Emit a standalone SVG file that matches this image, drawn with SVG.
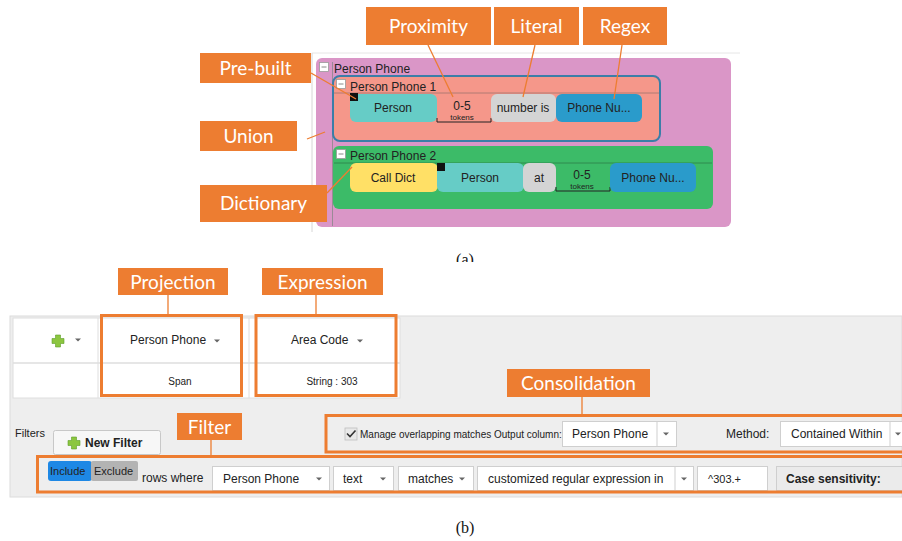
<svg xmlns="http://www.w3.org/2000/svg" width="902" height="541" viewBox="0 0 902 541">
<style>
.lbl{fill:#ED7D31}
.lt{fill:#fff;font-family:Lato,"Open Sans",sans-serif;font-size:19px;text-anchor:middle}
.lead{stroke:#ED7D31;stroke-width:1.3;fill:none}
.ui{font-family:"Liberation Sans",Arial,sans-serif;fill:#222}
.ui12{font-size:12px}
.ui11{font-size:11px}
.c{text-anchor:middle}
.obox{fill:none;stroke:#ED7D31;stroke-width:3}
.dd{fill:#fff;stroke:#cfcfcf;stroke-width:1}
.car{fill:#666}
.minus{fill:#fff;stroke:#999;stroke-width:0.8}
.cap{font-family:"Liberation Serif","Times New Roman",serif;font-size:16px;fill:#111;text-anchor:middle}
</style>
<defs>
<clipPath id="clipA"><rect x="0" y="0" width="902" height="262"/></clipPath>
<g id="plus"><path d="M-2.5,-6h5v3.5h3.5v5h-3.5v3.5h-5v-3.5h-3.5v-5h3.5z" fill="#8CC63F" stroke="#5E9E2A" stroke-width="0.6"/></g>
<path id="caret" d="M-3,-1.5h6l-3,3z"/>
</defs>
<rect width="902" height="541" fill="#fff"/>

<!-- ===== Panel (a) ===== -->
<g id="panel-a">
<line x1="312" y1="53" x2="740" y2="53" stroke="#e6e6e6"/>
<line x1="312" y1="53" x2="312" y2="232" stroke="#d6d6d6"/>
<g id="union-person-phone">
<rect x="316" y="58" width="415" height="169" rx="6" fill="#DA96C7"/>
<line x1="332.5" y1="62" x2="332.5" y2="226" stroke="#9a8a96" stroke-width="1"/>
<rect class="minus" x="319.5" y="62.5" width="9" height="9"/>
<line x1="321.5" y1="67" x2="326.5" y2="67" stroke="#888"/>
<text class="ui ui12" x="334" y="73">Person Phone</text>
</g>
<g id="person-phone-1">
<rect x="333" y="76" width="327" height="65" rx="7" fill="#F5978A" stroke="#3B7EA8" stroke-width="2"/>
<line x1="334" y1="93" x2="659" y2="93" stroke="#b07a72" stroke-width="1"/>
<rect class="minus" x="336.5" y="79.5" width="9" height="9"/>
<line x1="338.5" y1="84" x2="343.5" y2="84" stroke="#888"/>
<text class="ui ui12" x="350" y="91">Person Phone 1</text>
<rect x="350" y="94" width="87" height="28" rx="6" fill="#66CCC6"/>
<rect x="350" y="93" width="8" height="8" fill="#111"/>
<text class="ui ui12 c" x="393" y="112">Person</text>
<text class="ui ui12 c" x="462" y="109.5">0-5</text>
<text class="ui c" x="462" y="119.5" font-size="8">tokens</text>
<path d="M437,118v4h54v-4" fill="none" stroke="#222" stroke-width="1"/>
<rect x="491" y="94" width="65" height="28" rx="6" fill="#D4D4D4"/>
<text class="ui ui12 c" x="523" y="112">number is</text>
<rect x="556" y="94" width="86" height="28" rx="6" fill="#2A9BCB"/>
<text class="ui ui12 c" x="599" y="112">Phone Nu...</text>
</g>
<g id="person-phone-2">
<rect x="333" y="146" width="380" height="63" rx="6" fill="#3CBB68"/>
<line x1="334" y1="163" x2="712" y2="163" stroke="#2f8a4e" stroke-width="1"/>
<rect class="minus" x="336.5" y="149.5" width="9" height="9"/>
<line x1="338.5" y1="154" x2="343.5" y2="154" stroke="#888"/>
<text class="ui ui12" x="350" y="160">Person Phone 2</text>
<rect x="350" y="163" width="88" height="29" rx="6" fill="#FFE066"/>
<text class="ui ui12 c" x="393" y="182">Call Dict</text>
<rect x="437" y="163" width="87" height="29" rx="6" fill="#66CCC6"/>
<rect x="437" y="163" width="8" height="8" fill="#111"/>
<text class="ui ui12 c" x="480" y="182">Person</text>
<rect x="523" y="163" width="33" height="29" rx="6" fill="#D4D4D4"/>
<text class="ui ui12 c" x="539" y="182">at</text>
<text class="ui ui12 c" x="582" y="178.5">0-5</text>
<text class="ui c" x="582" y="188.5" font-size="8">tokens</text>
<path d="M556,187v4h54v-4" fill="none" stroke="#222" stroke-width="1"/>
<rect x="610" y="163" width="86" height="29" rx="6" fill="#2A9BCB"/>
<text class="ui ui12 c" x="653" y="182">Phone Nu...</text>
</g>
<g id="label-proximity"><rect class="lbl" x="366" y="7" width="125" height="38"/><text class="lt" x="428.5" y="33">Proximity</text></g>
<g id="label-literal"><rect class="lbl" x="494" y="7" width="85" height="38"/><text class="lt" x="536.5" y="33">Literal</text></g>
<g id="label-regex"><rect class="lbl" x="583" y="7" width="84" height="38"/><text class="lt" x="625" y="33">Regex</text></g>
<g id="label-prebuilt"><rect class="lbl" x="200" y="53" width="111" height="30"/><text class="lt" x="255.5" y="75">Pre-built</text></g>
<g id="label-union"><rect class="lbl" x="200" y="121" width="97" height="30"/><text class="lt" x="248.5" y="143">Union</text></g>
<g id="label-dictionary"><rect class="lbl" x="200" y="185" width="127" height="37"/><text class="lt" x="263.5" y="210">Dictionary</text></g>
<text class="cap" x="465" y="265" clip-path="url(#clipA)">(a)</text>
</g>

<!-- ===== Panel (b) ===== -->
<g id="panel-b">
<rect x="10" y="316" width="892" height="181" fill="#EEEEEE" stroke="#dcdcdc" stroke-width="1"/>
<rect x="13" y="318" width="387" height="80" fill="#fff" stroke="#dedede"/>
<line x1="13" y1="363" x2="400" y2="363" stroke="#dedede" stroke-width="1.5"/>
<line x1="98" y1="318" x2="98" y2="398" stroke="#dedede"/>
<line x1="249" y1="318" x2="249" y2="398" stroke="#dedede"/>
<use href="#plus" x="58" y="341"/>
<use href="#caret" class="car" x="78" y="340"/>
<g id="projection">
<text class="ui ui12" x="130" y="344" fill="#333">Person Phone</text>
<use href="#caret" class="car" x="217" y="341"/>
<text class="ui c" x="180" y="385" font-size="10">Span</text>
<rect class="obox" x="101.5" y="315.5" width="140" height="80"/>
</g>
<g id="expression">
<text class="ui ui12" x="291" y="344" fill="#333">Area Code</text>
<use href="#caret" class="car" x="360" y="341"/>
<text class="ui c" x="332" y="385" font-size="10">String : 303</text>
<rect class="obox" x="256" y="315.5" width="140" height="80"/>
</g>
<text class="ui ui11" x="15" y="437" fill="#333">Filters</text>
<g id="new-filter">
<rect x="53.5" y="430.5" width="107" height="24" rx="2" fill="#f7f7f7" stroke="#c8c8c8"/>
<use href="#plus" x="74" y="443"/>
<text class="ui ui12" x="85" y="447" font-weight="bold">New Filter</text>
</g>
<g id="consolidation">
<rect x="345" y="428" width="12" height="12" fill="#e8e8e8" stroke="#bdbdbd" stroke-width="0.8"/>
<path d="M347,433.5l3,3l5.5,-6" fill="none" stroke="#333" stroke-width="1.6"/>
<text class="ui" x="360" y="438" font-size="10" fill="#333">Manage overlapping matches Output column:</text>
<rect class="dd" x="562.5" y="421.5" width="114" height="25"/>
<line x1="657" y1="422" x2="657" y2="446" stroke="#cfcfcf"/>
<text class="ui ui12" x="572" y="438" fill="#333">Person Phone</text>
<use href="#caret" class="car" x="666" y="434"/>
<text class="ui ui12" x="726" y="438" fill="#444">Method:</text>
<rect class="dd" x="780.5" y="421.5" width="130" height="25"/>
<line x1="890" y1="422" x2="890" y2="446" stroke="#cfcfcf"/>
<text class="ui ui12" x="791" y="438" fill="#333">Contained Within</text>
<use href="#caret" class="car" x="898" y="434"/>
<rect class="obox" x="326" y="415.5" width="590" height="36.5"/>
</g>
<g id="filter-row">
<rect x="48" y="461" width="44" height="20" rx="3" fill="#1E88E5"/>
<text class="ui ui11" x="50" y="475" fill="#fff">Include</text>
<rect x="91" y="461" width="47" height="20" rx="2" fill="#B3B3B3"/>
<text class="ui ui11" x="94" y="475" fill="#555">Exclude</text>
<text class="ui ui12" x="142" y="482" fill="#333">rows where</text>
<rect class="dd" x="212.5" y="466.5" width="117" height="24"/>
<text class="ui ui12" x="223" y="483" fill="#333">Person Phone</text>
<use href="#caret" class="car" x="319" y="479"/>
<rect class="dd" x="333.5" y="466.5" width="60" height="24"/>
<text class="ui ui12" x="343" y="483" fill="#333">text</text>
<use href="#caret" class="car" x="383" y="479"/>
<rect class="dd" x="398.5" y="466.5" width="75" height="24"/>
<text class="ui ui12" x="408" y="483" fill="#333">matches</text>
<use href="#caret" class="car" x="462" y="479"/>
<rect class="dd" x="477.5" y="466.5" width="216" height="24"/>
<line x1="675" y1="467" x2="675" y2="490" stroke="#cfcfcf"/>
<text class="ui ui12" x="488" y="483" fill="#333">customized regular expression in</text>
<use href="#caret" class="car" x="684" y="479"/>
<rect class="dd" x="697.5" y="466.5" width="70" height="24"/>
<text class="ui ui11" x="708" y="483" fill="#333">^303.+</text>
<rect x="776.5" y="466.5" width="140" height="24" fill="#EBEBEB" stroke="#cfcfcf"/>
<text class="ui ui12" x="786" y="483" font-weight="bold" fill="#333">Case sensitivity:</text>
<rect class="obox" x="37.5" y="456.5" width="880" height="35.5"/>
</g>
<g id="label-projection"><rect class="lbl" x="118" y="268" width="110" height="27"/><text class="lt" x="173" y="289">Projection</text></g>
<g id="label-expression"><rect class="lbl" x="262" y="268" width="121" height="27"/><text class="lt" x="322.5" y="289">Expression</text></g>
<g id="label-consolidation"><rect class="lbl" x="507" y="369" width="143" height="28"/><text class="lt" x="578.5" y="390">Consolidation</text></g>
<g id="label-filter"><rect class="lbl" x="177" y="413" width="65" height="27"/><text class="lt" x="209.5" y="434">Filter</text></g>
<text class="cap" x="465" y="533">(b)</text>
</g>

<!-- ===== Connectors ===== -->
<g id="connectors">
<line class="lead" x1="428" y1="45" x2="453" y2="97"/>
<line class="lead" x1="535" y1="45" x2="523" y2="97"/>
<line class="lead" x1="622" y1="45" x2="614" y2="99"/>
<line class="lead" x1="311" y1="73" x2="356" y2="99"/>
<line class="lead" x1="307" y1="139" x2="325" y2="132"/>
<line class="lead" x1="327" y1="193" x2="352" y2="167"/>
<line class="lead" x1="168" y1="295" x2="168" y2="314"/>
<line class="lead" x1="316" y1="295" x2="316" y2="314"/>
<line class="lead" x1="582" y1="397" x2="582" y2="414"/>
<line class="lead" x1="211" y1="440" x2="211" y2="455"/>
</g>
</svg>
